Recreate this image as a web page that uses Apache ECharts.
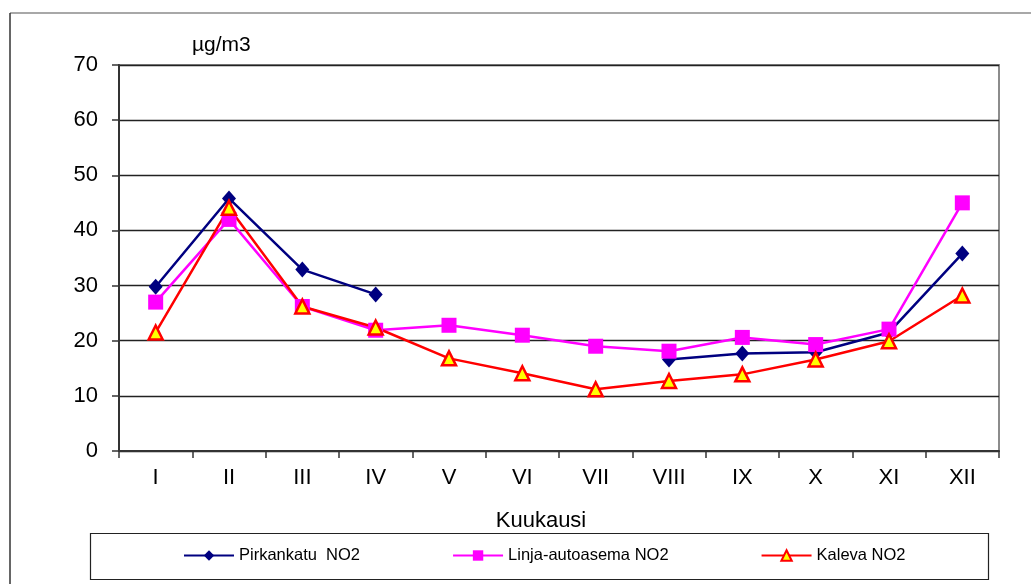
<!DOCTYPE html>
<html>
<head>
<meta charset="utf-8">
<script src="https://cdn.jsdelivr.net/npm/echarts@6/dist/echarts.min.js"></script>
<style>
  html, body { margin: 0; padding: 0; background: #fff; }
  #chart { width: 1031px; height: 584px; }
</style>
</head>
<body>
<div id="chart"></div>
<script>
// Monthly NO2 means (µg/m3) at three measuring stations
const months = ['I', 'II', 'III', 'IV', 'V', 'VI', 'VII', 'VIII', 'IX', 'X', 'XI', 'XII'];
const pirkankatu = [29.8, 45.8, 32.9, 28.4, null, null, null, 16.6, 17.7, 17.9, 21.5, 35.8];
const linjaAutoasema = [27.0, 42.0, 26.2, 21.9, 22.8, 21.0, 19.0, 18.1, 20.6, 19.3, 22.1, 45.0];
const kaleva = [21.5, 44.1, 26.2, 22.4, 16.8, 14.1, 11.2, 12.7, 13.9, 16.6, 19.9, 28.2];
const seriesNames = ['Pirkankatu  NO2', 'Linja-autoasema NO2', 'Kaleva NO2'];
const yTicks = { min: 0, max: 70, interval: 10 };

const FONT = '"Liberation Sans", Arial, sans-serif';
const chart = echarts.init(document.getElementById('chart'), null, { renderer: 'canvas' });

chart.setOption({
  backgroundColor: '#ffffff',
  animation: false,
  textStyle: { fontFamily: FONT, color: '#000' },
  grid: {
    left: 119, right: 32, top: 65, bottom: 133,
    show: true, borderColor: '#8c8c8c', borderWidth: 2, backgroundColor: 'transparent'
  },
  graphic: [
    // outer frame (top and left edges)
    { type: 'line', shape: { x1: 10, y1: 13, x2: 1031, y2: 13 }, style: { stroke: '#a8a8a8', lineWidth: 2 } },
    { type: 'line', shape: { x1: 10, y1: 13, x2: 10, y2: 584 }, style: { stroke: '#333', lineWidth: 1.5 } },
    // legend frame
    { type: 'rect', shape: { x: 90.5, y: 533.5, width: 898, height: 46 }, style: { fill: 'none', stroke: '#222', lineWidth: 1.2 } },
    // axis titles
    { type: 'text', x: 192, y: 45, style: { text: 'µg/m3', font: '21px ' + FONT, fill: '#000', verticalAlign: 'middle' } },
    { type: 'text', x: 541, y: 521, style: { text: 'Kuukausi', font: '22px ' + FONT, fill: '#000', align: 'center', verticalAlign: 'middle' } }
  ],
  legend: {
    left: 178, top: 542,
    itemWidth: 50, itemHeight: 13, itemGap: 92,
    textStyle: { fontFamily: FONT, fontSize: 16.5, color: '#000' },
    data: seriesNames
  },
  xAxis: {
    type: 'category',
    data: months,
    boundaryGap: true,
    axisLine: { lineStyle: { color: '#333', width: 2 } },
    axisTick: { show: true, length: 7, lineStyle: { color: '#333', width: 1.5 } },
    axisLabel: { fontSize: 22, color: '#000', margin: 16, fontFamily: FONT },
    splitLine: { show: false }
  },
  yAxis: {
    type: 'value',
    min: yTicks.min, max: yTicks.max, interval: yTicks.interval,
    axisLine: { show: true, lineStyle: { color: '#333', width: 2 } },
    axisTick: { show: true, length: 7, lineStyle: { color: '#333', width: 1.5 } },
    axisLabel: { fontSize: 22, color: '#000', margin: 21, fontFamily: FONT },
    splitLine: { show: true, lineStyle: { color: '#222', width: 1.3 } }
  },
  series: [
    {
      name: seriesNames[0], type: 'line', data: pirkankatu,
      connectNulls: false,
      symbol: 'diamond', symbolSize: [14, 16],
      lineStyle: { color: '#000080', width: 2.5 },
      itemStyle: { color: '#000080', borderColor: '#000080', borderWidth: 0 }
    },
    {
      name: seriesNames[1], type: 'line', data: linjaAutoasema,
      symbol: 'rect', symbolSize: 15,
      lineStyle: { color: '#ff00ff', width: 2.5 },
      itemStyle: { color: '#ff00ff', borderColor: '#ff00ff', borderWidth: 0 }
    },
    {
      name: seriesNames[2], type: 'line', data: kaleva,
      symbol: 'triangle', symbolSize: 14,
      lineStyle: { color: '#ff0000', width: 2.5 },
      itemStyle: { color: '#ffff00', borderColor: '#ff0000', borderWidth: 2.5 }
    }
  ]
});
</script>
</body>
</html>
